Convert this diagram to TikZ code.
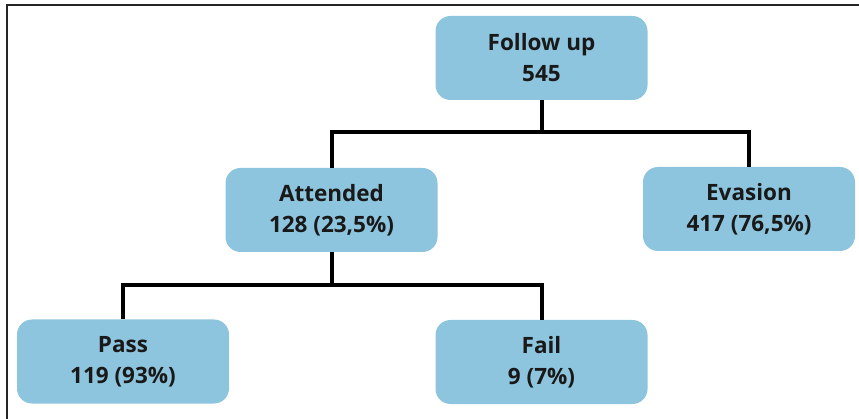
\documentclass[tikz,border=0pt]{standalone}
\usepackage{fontspec}
\setmainfont{Open Sans}
\definecolor{boxblue}{RGB}{142,197,222}
\definecolor{txt}{RGB}{25,25,25}
\begin{document}
\begin{tikzpicture}[x=1pt,y=-1pt,
  box/.style={rounded corners=15pt, fill=boxblue, draw=none, minimum width=212pt, minimum height=84pt,
    align=center, inner sep=0pt, text=txt, font=\fontsize{22.5}{31}\selectfont\bfseries},
  conn/.style={line width=4pt, black, line join=miter}]
\useasboundingbox (0,0) rectangle (859,419);
\draw[line width=1.5pt, black!85] (7,419) -- (7,5) -- (859,5);
\node[box] (top) at (541.5,58) {Follow up\\545};
\node[box] (att) at (331.5,210) {Attended\\128 (23,5\%)};
\node[box] (eva) at (749,209) {Evasion\\417 (76,5\%)};
\node[box] (pass) at (123,361.5) {Pass\\119 (93\%)};
\node[box] (fail) at (541.5,362) {Fail\\9 (7\%)};
\coordinate (j1) at (541.5,132);
\coordinate (j2) at (331.5,285);
\draw[conn] (top.south) -- (j1);
\draw[conn] (att.north) |- (j1) -| (eva.north);
\draw[conn] (att.south) -- (j2);
\draw[conn] (pass.north) |- (j2) -| (fail.north);
\end{tikzpicture}
\end{document}
